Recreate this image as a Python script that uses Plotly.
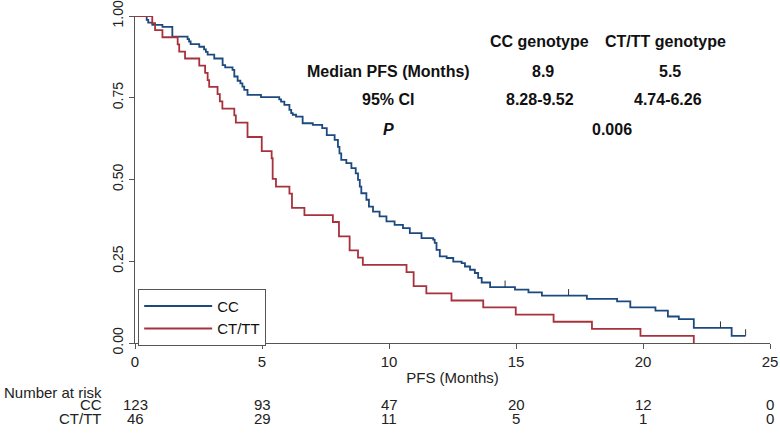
import plotly.graph_objects as go

# Kaplan-Meier PFS curves (months, survival probability)
cc_time = [0, 0.46, 0.52, 0.68, 1.08, 1.47, 2.07, 2.13, 2.19, 2.53, 2.72, 2.79, 2.86,
           3.12, 3.45, 3.55, 3.84, 3.91, 4.04, 4.15, 4.23, 4.30, 4.43, 4.96, 5.68,
           5.75, 5.88, 6.08, 6.15, 6.21, 6.34, 6.60, 7.00, 7.37, 7.55, 7.86, 7.99,
           8.05, 8.12, 8.32, 8.52, 8.69, 8.78, 8.85, 8.91, 9.11, 9.21, 9.37, 9.63,
           9.90, 10.22, 10.55, 10.82, 11.28, 11.74, 11.80, 11.87, 12.00, 12.27,
           12.53, 12.86, 12.99, 13.19, 13.38, 13.51, 13.65, 13.98, 14.96, 15.49,
           16.02, 17.79, 18.98, 19.50, 20.49, 20.98, 21.41, 22.00, 23.49, 24.04]
cc_surv = [1.0, 0.988, 0.980, 0.973, 0.967, 0.937, 0.929, 0.922, 0.914, 0.906, 0.898,
           0.890, 0.882, 0.870, 0.850, 0.843, 0.835, 0.815, 0.802, 0.794, 0.784,
           0.774, 0.759, 0.752, 0.745, 0.738, 0.728, 0.713, 0.703, 0.698, 0.692,
           0.672, 0.667, 0.657, 0.636, 0.621, 0.600, 0.580, 0.560, 0.550, 0.535,
           0.519, 0.499, 0.478, 0.458, 0.438, 0.417, 0.402, 0.387, 0.372, 0.361,
           0.351, 0.336, 0.321, 0.316, 0.306, 0.285, 0.265, 0.260, 0.249, 0.244,
           0.234, 0.224, 0.214, 0.199, 0.185, 0.171, 0.163, 0.155, 0.145, 0.135,
           0.127, 0.109, 0.099, 0.081, 0.073, 0.046, 0.022, 0.022]
cc_cens_time = [14.57, 17.07, 23.05, 24.04]
cc_cens_surv = [0.171, 0.145, 0.046, 0.022]

ct_time = [0, 0.68, 0.79, 1.08, 1.68, 1.74, 1.97, 2.53, 2.76, 2.86, 2.92, 3.25, 3.34,
           3.44, 3.91, 3.97, 4.43, 4.99, 5.38, 5.42, 5.55, 6.08, 6.18, 6.67, 7.79,
           8.03, 8.45, 8.78, 8.97, 10.69, 10.97, 11.47, 12.46, 13.71, 14.99, 16.48,
           17.99, 19.90, 22.0]
ct_surv = [1.0, 0.978, 0.957, 0.935, 0.913, 0.891, 0.870, 0.848, 0.826, 0.804, 0.783,
           0.761, 0.739, 0.717, 0.696, 0.674, 0.630, 0.587, 0.565, 0.502, 0.478,
           0.457, 0.413, 0.391, 0.370, 0.326, 0.283, 0.261, 0.239, 0.217, 0.174,
           0.152, 0.130, 0.109, 0.087, 0.065, 0.043, 0.022, 0.0]

# number at risk table
risk_times = [0, 5, 10, 15, 20, 25]
risk_cc = [123, 93, 47, 20, 12, 0]
risk_ct = [46, 29, 11, 5, 1, 0]

# summary table in the top right
tbl_cols = ["CC genotype", "CT/TT genotype"]
tbl_median = ["8.9", "5.5"]
tbl_ci = ["8.28-9.52", "4.74-6.26"]
p_value = "0.006"

BLUE = "#1c4a80"
RED = "#a8323c"
FONT = "Arial, Liberation Sans, sans-serif"

fig = go.Figure()
fig.add_trace(go.Scatter(x=cc_time, y=cc_surv, mode="lines", line_shape="hv",
                         line=dict(color=BLUE, width=1.8), name="CC"))
fig.add_trace(go.Scatter(x=ct_time, y=ct_surv, mode="lines", line_shape="hv",
                         line=dict(color=RED, width=1.8), name="CT/TT"))

# censoring ticks (short vertical marks above the curve)
cx, cy = [], []
for t, s in zip(cc_cens_time, cc_cens_surv):
    cx += [t, t, None]
    cy += [s, s + 0.02, None]
fig.add_trace(go.Scatter(x=cx, y=cy, mode="lines", line=dict(color="#333", width=1),
                         showlegend=False, hoverinfo="skip"))

def px_x(p):
    return (p - 135) / 635

def px_y(p):
    return (343.3 - p) / 327.3

ann = []
def txt(x, y, s, xref="paper", xanchor="center", size=16, color="#111"):
    ann.append(dict(x=x, y=y, xref=xref, yref="paper", text=s, showarrow=False,
                    xanchor=xanchor, yanchor="middle",
                    font=dict(family=FONT, size=size, color=color)))

txt(px_x(539), px_y(42), "<b>%s</b>" % tbl_cols[0])
txt(px_x(665), px_y(42), "<b>%s</b>" % tbl_cols[1])
txt(px_x(388), px_y(72), "<b>Median PFS (Months)</b>")
txt(px_x(543), px_y(72), "<b>%s</b>" % tbl_median[0])
txt(px_x(670), px_y(72), "<b>%s</b>" % tbl_median[1])
txt(px_x(388), px_y(100), "<b>95% CI</b>")
txt(px_x(540), px_y(100), "<b>%s</b>" % tbl_ci[0])
txt(px_x(668), px_y(100), "<b>%s</b>" % tbl_ci[1])
txt(px_x(388), px_y(130), "<b><i>P</i></b>")
txt(px_x(612), px_y(130), "<b>%s</b>" % p_value)

txt(px_x(2), px_y(392.5), "Number at risk", xanchor="left", size=15, color="#222")
txt(px_x(104), px_y(405), "CC", xanchor="right", size=15, color="#222")
txt(px_x(104), px_y(419), "CT/TT", xanchor="right", size=15, color="#222")
for t, a, b in zip(risk_times, risk_cc, risk_ct):
    txt(t, px_y(405), str(a), xref="x", size=15, color="#222")
    txt(t, px_y(419), str(b), xref="x", size=15, color="#222")

fig.update_layout(
    width=780, height=442,
    margin=dict(l=135, r=10, t=16, b=99),
    plot_bgcolor="white", paper_bgcolor="white",
    font=dict(family=FONT, size=15, color="#222"),
    annotations=ann,
    showlegend=True,
    legend=dict(x=0.005, y=px_y(289), xanchor="left", yanchor="top",
                bordercolor="#555", borderwidth=1, bgcolor="white",
                font=dict(family=FONT, size=15, color="#111"),
                entrywidth=88, itemwidth=68),
)
fig.update_xaxes(range=[0, 25], tickvals=risk_times, showgrid=False, zeroline=False,
                 showline=True, linecolor="#555", linewidth=1, automargin=False,
                 ticks="outside", ticklen=5, tickcolor="#555",
                 title=dict(text="PFS (Months)", standoff=3, font=dict(size=15)))
fig.update_yaxes(range=[0, 1], tickvals=[0, 0.25, 0.5, 0.75, 1.0],
                 ticktext=["0.00", "0.25", "0.50", "0.75", "1.00"], tickangle=-90,
                 showgrid=False, zeroline=False, showline=True, linecolor="#555",
                 linewidth=1, ticks="outside", ticklen=5, tickcolor="#555",
                 automargin=False, tickfont=dict(size=14))

# drop the browser's default body margin so the figure sits at the page corner
fig.write_html("out.html", config={"displayModeBar": False},
               post_script="document.body.style.margin='0';")
